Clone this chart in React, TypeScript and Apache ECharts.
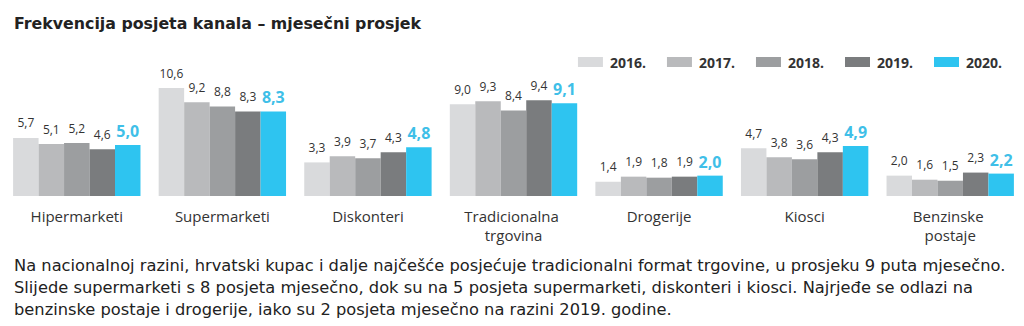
import React, { useEffect, useRef } from "react";
import * as echarts from "echarts";

const categories = [
  "Hipermarketi",
  "Supermarketi",
  "Diskonteri",
  "Tradicionalna trgovina",
  "Drogerije",
  "Kiosci",
  "Benzinske postaje",
];
const years = ["2016.", "2017.", "2018.", "2019.", "2020."];
const v2016 = [5.7, 10.6, 3.3, 9.0, 1.4, 4.7, 2.0];
const v2017 = [5.1, 9.2, 3.9, 9.3, 1.9, 3.8, 1.6];
const v2018 = [5.2, 8.8, 3.7, 8.4, 1.8, 3.6, 1.5];
const v2019 = [4.6, 8.3, 4.3, 9.4, 1.9, 4.3, 2.3];
const v2020 = [5.0, 8.3, 4.8, 9.1, 2.0, 4.9, 2.2];
const colors = ["#d9dadc", "#b9babc", "#9c9ea0", "#7a7c7e", "#2ec4f0"];
const title = "Frekvencija posjeta kanala – mjesečni prosjek";
const paragraph = [
  "Na nacionalnoj razini, hrvatski kupac i dalje najčešće posjećuje tradicionalni format trgovine, u prosjeku 9 puta mjesečno.",
  "Slijede supermarketi s 8 posjeta mjesečno, dok su na 5 posjeta supermarketi, diskonteri i kiosci. Najrjeđe se odlazi na",
  "benzinske postaje i drogerije, iako su 2 posjeta mjesečno na razini 2019. godine.",
];

const seriesValues = [v2016, v2017, v2018, v2019, v2020];

export default function App() {
  const ref = useRef<HTMLDivElement>(null);
  useEffect(() => {
    if (!ref.current) return;
    const chart = echarts.init(ref.current, null, { renderer: "svg" });
    const fmt = (p: any) => Number(p.value).toFixed(1).replace(".", ",");
    chart.setOption({
      animation: false,
      textStyle: { fontFamily: "Open Sans" },
      title: {
        text: title,
        left: 14,
        top: 15,
        padding: 0,
        textStyle: { fontFamily: "DejaVu Sans", fontSize: 15.8, fontWeight: "bold", color: "#222" },
      },
      legend: {
        right: 17,
        top: 50,
        itemWidth: 25,
        itemHeight: 10,
        itemGap: 21,
        icon: "rect",
        textStyle: {
          fontFamily: "Open Sans",
          fontSize: 14,
          fontWeight: "bold",
          color: "#333",
          padding: [0, 0, 0, 2],
        },
        data: years,
      },
      grid: { left: 4, right: 1, top: 84, bottom: 130 },
      xAxis: {
        type: "category",
        data: categories,
        axisLine: { show: false },
        axisTick: { show: false },
        axisLabel: {
          interval: 0,
          fontFamily: "Open Sans",
          fontSize: 15,
          color: "#333",
          margin: 10,
          width: 120,
          overflow: "break",
          lineHeight: 19,
        },
      },
      yAxis: { type: "value", min: 0, max: 11, show: false, splitLine: { show: false } },
      series: years.map((y, i) => ({
        name: y,
        type: "bar",
        data: seriesValues[i],
        barGap: "0%",
        barCategoryGap: "12.5%",
        itemStyle: { color: colors[i] },
        label: {
          show: true,
          position: "top",
          distance: i === 4 ? 6 : 9,
          formatter: fmt,
          fontFamily: "Open Sans",
          fontSize: i === 4 ? 16 : 12,
          fontWeight: i === 4 ? "bold" : "normal",
          color: i === 4 ? "#3fbfe8" : "#333",
        },
      })),
      graphic: paragraph.map((line, i) => ({
        type: "text",
        x: 14,
        y: 258 + i * 22,
        scaleX: 1.086,
        style: {
          text: line,
          x: 0,
          y: 0,
          font: "15px 'DejaVu Sans', sans-serif",
          fill: "#222",
          textVerticalAlign: "top",
        },
      })),
    });
    return () => chart.dispose();
  }, []);
  return <div ref={ref} style={{ width: 1024, height: 326, margin: -8 }} />;
}
